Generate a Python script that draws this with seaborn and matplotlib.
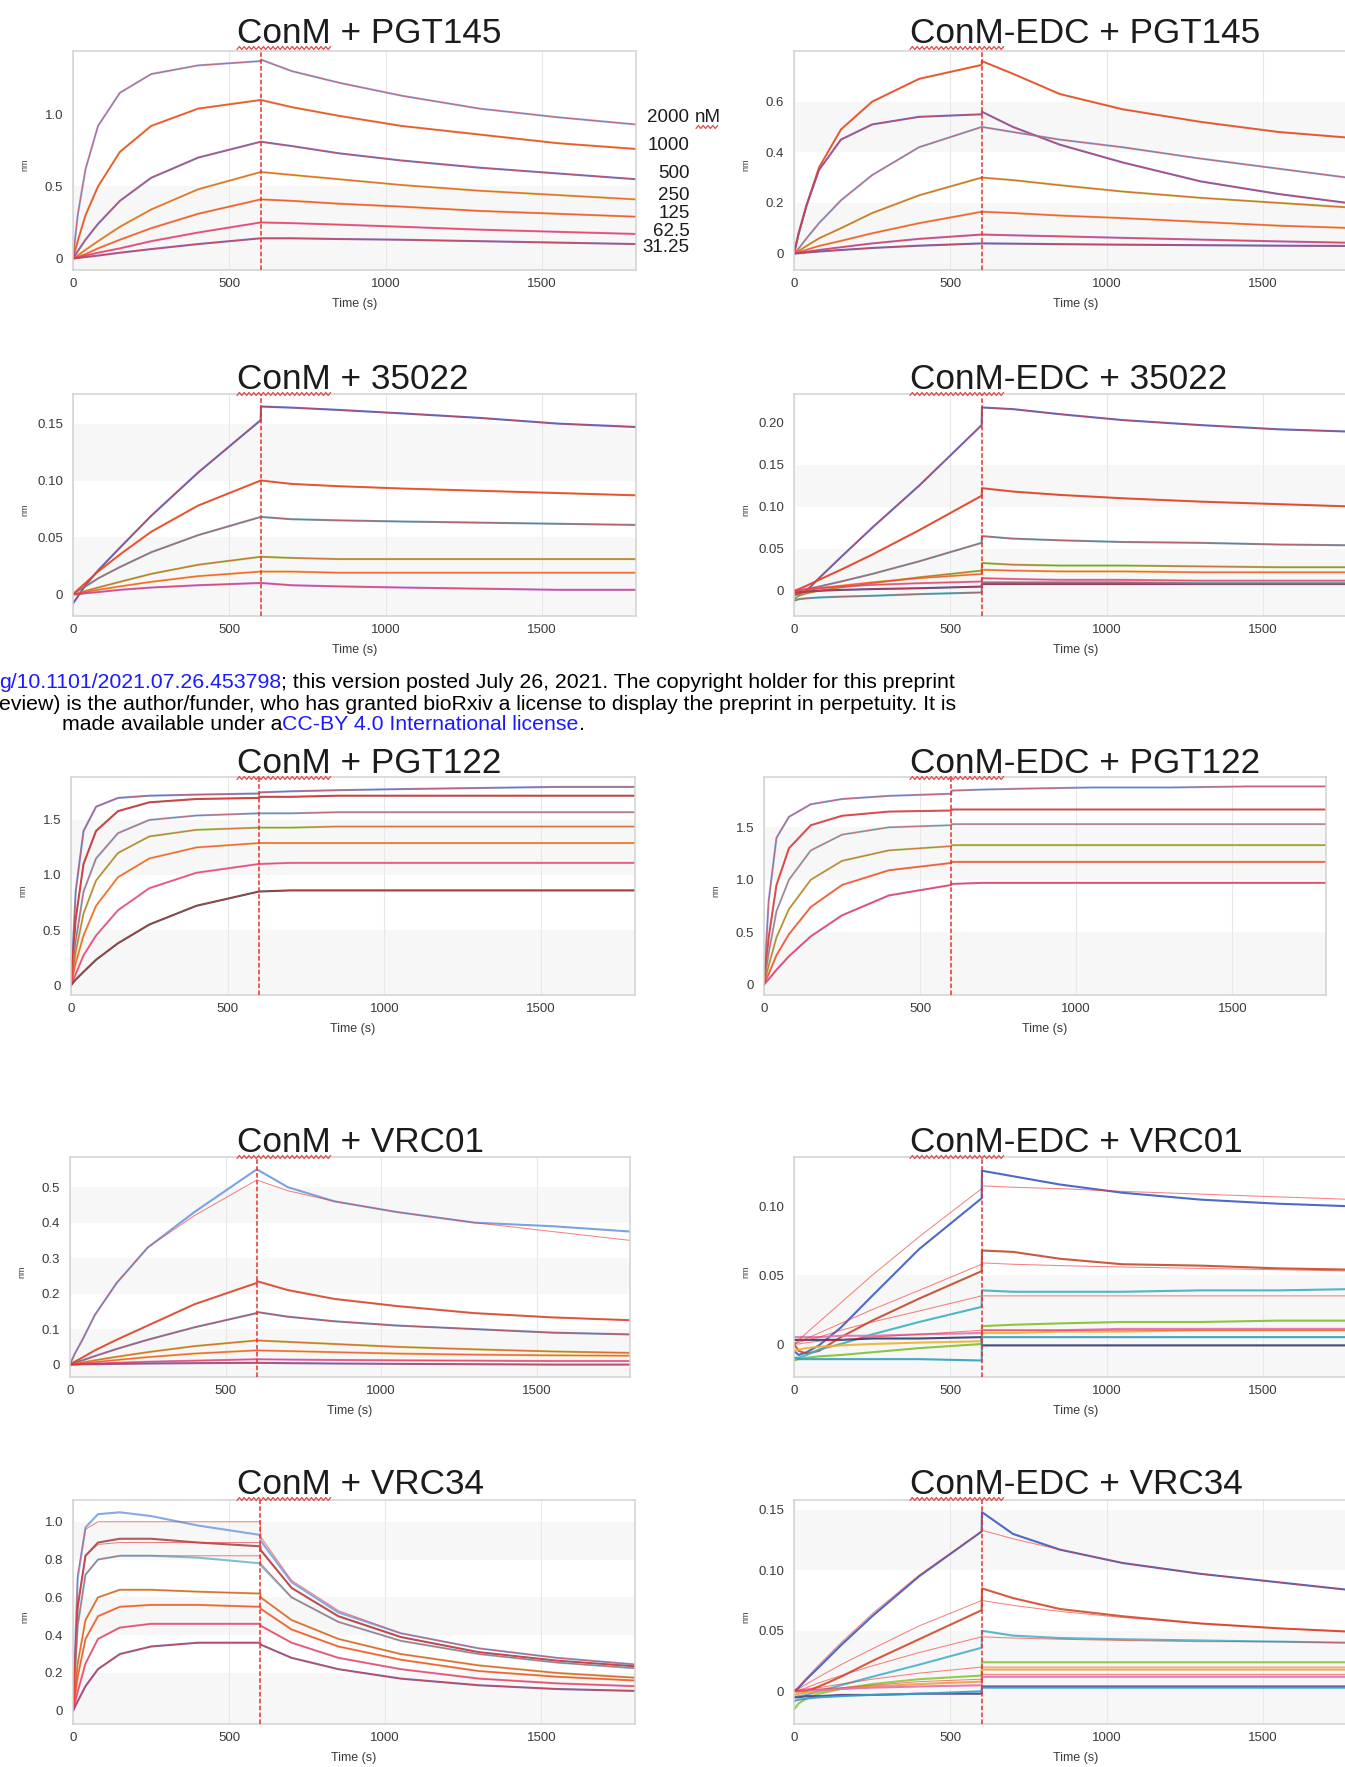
import numpy as np
import pandas as pd
import seaborn as sns
import matplotlib.pyplot as plt
from matplotlib.lines import Line2D

sns.set_theme(style="white")
plt.rcParams["font.family"] = ["Liberation Sans", "DejaVu Sans"]

W, H = 1345, 1767

# sampling times (s); 600 / 601 = switch from association to dissociation
time_s = [0, 15, 40, 80, 150, 250, 400, 600, 601, 700, 850, 1050, 1300, 1550, 1800]

# ---- ConM + PGT145 (2000 ... 31.25 nM)
conm_pgt145 = [
    [0, 0.30, 0.62, 0.92, 1.15, 1.28, 1.34, 1.37, 1.38, 1.30, 1.22, 1.13, 1.04, 0.98, 0.93],
    [0, 0.12, 0.30, 0.50, 0.74, 0.92, 1.04, 1.10, 1.10, 1.05, 0.99, 0.92, 0.86, 0.80, 0.76],
    [0, 0.05, 0.13, 0.24, 0.40, 0.56, 0.70, 0.81, 0.81, 0.78, 0.73, 0.68, 0.63, 0.59, 0.55],
    [0, 0.02, 0.06, 0.12, 0.22, 0.34, 0.48, 0.60, 0.60, 0.58, 0.55, 0.51, 0.47, 0.44, 0.41],
    [0, 0.01, 0.03, 0.07, 0.13, 0.21, 0.31, 0.41, 0.41, 0.40, 0.38, 0.36, 0.33, 0.31, 0.29],
    [0, 0.005, 0.02, 0.04, 0.07, 0.12, 0.18, 0.25, 0.25, 0.245, 0.235, 0.22, 0.20, 0.185, 0.17],
    [0, 0.003, 0.01, 0.02, 0.04, 0.065, 0.10, 0.14, 0.14, 0.14, 0.135, 0.13, 0.12, 0.11, 0.10],
]
pgt145_conc_labels = ["2000", "1000", "500", "250", "125", "62.5", "31.25"]

# ---- ConM-EDC + PGT145
edc_pgt145 = [
    [0, 0.08, 0.19, 0.34, 0.49, 0.60, 0.69, 0.745, 0.76, 0.71, 0.63, 0.57, 0.52, 0.48, 0.455],
    [0, 0.08, 0.19, 0.33, 0.45, 0.51, 0.54, 0.55, 0.56, 0.50, 0.43, 0.36, 0.285, 0.235, 0.195],
    [0, 0.02, 0.06, 0.12, 0.21, 0.31, 0.42, 0.50, 0.50, 0.48, 0.45, 0.42, 0.375, 0.335, 0.295],
    [0, 0.01, 0.03, 0.06, 0.10, 0.16, 0.23, 0.30, 0.30, 0.29, 0.27, 0.245, 0.22, 0.20, 0.18],
    [0, 0.005, 0.015, 0.03, 0.05, 0.08, 0.12, 0.165, 0.165, 0.16, 0.15, 0.14, 0.125, 0.11, 0.10],
    [0, 0.003, 0.007, 0.014, 0.025, 0.04, 0.058, 0.075, 0.075, 0.072, 0.068, 0.062, 0.055, 0.048, 0.042],
    [0, 0.001, 0.004, 0.008, 0.014, 0.022, 0.031, 0.04, 0.04, 0.039, 0.037, 0.035, 0.033, 0.031, 0.03],
]

# ---- ConM + 35022
conm_35022 = [
    [-0.008, -0.002, 0.008, 0.021, 0.041, 0.069, 0.107, 0.153, 0.165, 0.164, 0.162, 0.159, 0.155, 0.150, 0.147],
    [0, 0.004, 0.01, 0.02, 0.035, 0.055, 0.078, 0.10, 0.10, 0.097, 0.095, 0.093, 0.091, 0.089, 0.087],
    [0, 0.003, 0.007, 0.014, 0.024, 0.037, 0.052, 0.068, 0.068, 0.066, 0.065, 0.064, 0.063, 0.062, 0.061],
    [0, 0.001, 0.003, 0.006, 0.011, 0.018, 0.026, 0.033, 0.033, 0.032, 0.031, 0.031, 0.031, 0.031, 0.031],
    [0, 0.0005, 0.002, 0.004, 0.007, 0.011, 0.016, 0.020, 0.020, 0.020, 0.019, 0.019, 0.019, 0.019, 0.019],
    [0, 0.0, 0.001, 0.002, 0.004, 0.006, 0.008, 0.010, 0.010, 0.008, 0.007, 0.006, 0.005, 0.004, 0.004],
]

# ---- ConM-EDC + 35022
edc_35022 = [
    [-0.005, -0.004, 0.0, 0.015, 0.04, 0.075, 0.125, 0.197, 0.218, 0.216, 0.21, 0.203, 0.197, 0.192, 0.189],
    [0, 0.002, 0.006, 0.013, 0.025, 0.043, 0.072, 0.113, 0.122, 0.118, 0.114, 0.11, 0.106, 0.103, 0.10],
    [0, 0.0, 0.002, 0.005, 0.011, 0.02, 0.035, 0.057, 0.065, 0.062, 0.06, 0.058, 0.057, 0.055, 0.054],
    [-0.01, -0.006, -0.003, 0.0, 0.004, 0.009, 0.016, 0.024, 0.033, 0.031, 0.030, 0.030, 0.029, 0.028, 0.028],
    [-0.003, -0.002, 0.0, 0.003, 0.006, 0.01, 0.015, 0.02, 0.025, 0.024, 0.023, 0.023, 0.022, 0.022, 0.022],
    [0, 0.001, 0.002, 0.003, 0.005, 0.007, 0.009, 0.011, 0.015, 0.014, 0.013, 0.013, 0.012, 0.012, 0.012],
    [-0.002, -0.002, -0.001, 0.0, 0.001, 0.002, 0.003, 0.005, 0.008, 0.008, 0.008, 0.008, 0.008, 0.008, 0.008],
    [-0.012, -0.01, -0.009, -0.008, -0.007, -0.006, -0.004, -0.002, 0.010, 0.010, 0.010, 0.010, 0.009, 0.009, 0.009],
]

# ---- ConM + PGT122
conm_pgt122 = [
    [0, 0.85, 1.40, 1.62, 1.70, 1.72, 1.73, 1.74, 1.75, 1.76, 1.77, 1.78, 1.79, 1.80, 1.80],
    [0, 0.60, 1.10, 1.40, 1.58, 1.66, 1.69, 1.70, 1.71, 1.71, 1.72, 1.72, 1.72, 1.72, 1.72],
    [0, 0.40, 0.85, 1.15, 1.38, 1.50, 1.54, 1.56, 1.56, 1.56, 1.57, 1.57, 1.57, 1.57, 1.57],
    [0, 0.30, 0.65, 0.95, 1.20, 1.35, 1.41, 1.43, 1.43, 1.43, 1.44, 1.44, 1.44, 1.44, 1.44],
    [0, 0.20, 0.45, 0.72, 0.98, 1.15, 1.25, 1.29, 1.29, 1.29, 1.29, 1.29, 1.29, 1.29, 1.29],
    [0, 0.10, 0.27, 0.45, 0.68, 0.88, 1.02, 1.10, 1.10, 1.11, 1.11, 1.11, 1.11, 1.11, 1.11],
    [0, 0.05, 0.12, 0.23, 0.38, 0.55, 0.72, 0.85, 0.85, 0.86, 0.86, 0.86, 0.86, 0.86, 0.86],
]

# ---- ConM-EDC + PGT122
edc_pgt122 = [
    [0, 0.80, 1.40, 1.60, 1.72, 1.77, 1.80, 1.82, 1.85, 1.86, 1.87, 1.88, 1.88, 1.89, 1.89],
    [0, 0.45, 0.95, 1.30, 1.52, 1.61, 1.65, 1.66, 1.67, 1.67, 1.67, 1.67, 1.67, 1.67, 1.67],
    [0, 0.30, 0.70, 1.00, 1.28, 1.43, 1.50, 1.52, 1.53, 1.53, 1.53, 1.53, 1.53, 1.53, 1.53],
    [0, 0.18, 0.45, 0.72, 1.00, 1.18, 1.28, 1.32, 1.33, 1.33, 1.33, 1.33, 1.33, 1.33, 1.33],
    [0, 0.10, 0.28, 0.48, 0.74, 0.95, 1.09, 1.16, 1.17, 1.17, 1.17, 1.17, 1.17, 1.17, 1.17],
    [0, 0.05, 0.14, 0.27, 0.46, 0.66, 0.85, 0.95, 0.96, 0.97, 0.97, 0.97, 0.97, 0.97, 0.97],
]

# ---- ConM + VRC01
conm_vrc01 = [
    [0, 0.03, 0.07, 0.14, 0.23, 0.33, 0.43, 0.55, 0.55, 0.50, 0.46, 0.43, 0.40, 0.39, 0.375],
    [0, 0.008, 0.02, 0.04, 0.07, 0.11, 0.17, 0.23, 0.235, 0.21, 0.185, 0.165, 0.145, 0.133, 0.125],
    [0, 0.005, 0.012, 0.024, 0.044, 0.07, 0.105, 0.145, 0.148, 0.135, 0.122, 0.11, 0.10, 0.09, 0.085],
    [0, 0.002, 0.006, 0.012, 0.022, 0.035, 0.052, 0.068, 0.068, 0.064, 0.058, 0.05, 0.043, 0.037, 0.033],
    [0, 0.001, 0.003, 0.007, 0.013, 0.021, 0.031, 0.04, 0.04, 0.038, 0.035, 0.031, 0.028, 0.026, 0.025],
    [0, 0.001, 0.002, 0.003, 0.005, 0.008, 0.011, 0.015, 0.015, 0.014, 0.013, 0.012, 0.011, 0.01, 0.01],
    [0, 0.0, 0.001, 0.001, 0.002, 0.003, 0.004, 0.005, 0.005, 0.004, 0.003, 0.002, 0.001, 0.0, 0.0],
]
conm_vrc01_fit = [
    [0, 0.03, 0.07, 0.14, 0.23, 0.33, 0.42, 0.52, 0.52, 0.49, 0.46, 0.43, 0.40, 0.375, 0.35],
] + conm_vrc01[1:]

# ---- ConM-EDC + VRC01 (measured traces and global fits)
edc_vrc01 = [
    [-0.005, -0.008, -0.006, -0.001, 0.012, 0.035, 0.069, 0.106, 0.126, 0.122, 0.116, 0.110, 0.105, 0.102, 0.100],
    [0.0, -0.005, -0.007, -0.005, 0.005, 0.017, 0.033, 0.053, 0.068, 0.067, 0.062, 0.058, 0.057, 0.055, 0.054],
    [-0.01, -0.01, -0.008, -0.004, 0.0, 0.007, 0.016, 0.027, 0.039, 0.038, 0.038, 0.038, 0.039, 0.039, 0.040],
    [-0.012, -0.011, -0.01, -0.009, -0.008, -0.006, -0.003, 0.0, 0.013, 0.014, 0.015, 0.016, 0.016, 0.017, 0.017],
    [-0.005, -0.004, -0.003, -0.002, -0.001, 0.0, 0.001, 0.002, 0.008, 0.008, 0.009, 0.009, 0.01, 0.01, 0.01],
    [0.005, 0.005, 0.005, 0.005, 0.006, 0.006, 0.007, 0.008, 0.01, 0.01, 0.01, 0.011, 0.011, 0.011, 0.011],
    [0.003, 0.003, 0.003, 0.003, 0.003, 0.004, 0.004, 0.005, -0.001, -0.001, -0.001, -0.001, -0.001, -0.001, -0.001],
    [-0.01, -0.011, -0.011, -0.011, -0.011, -0.011, -0.011, -0.012, 0.005, 0.005, 0.005, 0.005, 0.005, 0.005, 0.005],
]
edc_vrc01_fit = [
    [0, 0.003, 0.008, 0.016, 0.03, 0.05, 0.078, 0.113, 0.115, 0.114, 0.113, 0.111, 0.109, 0.107, 0.105],
    [0, 0.002, 0.004, 0.008, 0.015, 0.025, 0.039, 0.058, 0.059, 0.058, 0.057, 0.056, 0.055, 0.054, 0.053],
    [0, 0.001, 0.003, 0.005, 0.01, 0.016, 0.024, 0.035, 0.035, 0.035, 0.035, 0.035, 0.035, 0.035, 0.035],
    [0, 0.0, 0.001, 0.002, 0.003, 0.005, 0.007, 0.01, 0.01, 0.01, 0.01, 0.01, 0.01, 0.01, 0.01],
]

# ---- ConM + VRC34
conm_vrc34 = [
    [0, 0.70, 0.97, 1.04, 1.05, 1.03, 0.98, 0.93, 0.90, 0.68, 0.52, 0.41, 0.33, 0.28, 0.245],
    [0, 0.55, 0.82, 0.89, 0.91, 0.91, 0.89, 0.87, 0.85, 0.65, 0.50, 0.39, 0.31, 0.265, 0.235],
    [0, 0.45, 0.72, 0.80, 0.82, 0.82, 0.81, 0.78, 0.77, 0.60, 0.47, 0.37, 0.30, 0.255, 0.225],
    [0, 0.25, 0.48, 0.60, 0.64, 0.64, 0.63, 0.62, 0.60, 0.48, 0.38, 0.30, 0.24, 0.20, 0.175],
    [0, 0.18, 0.38, 0.50, 0.55, 0.56, 0.56, 0.55, 0.54, 0.43, 0.34, 0.27, 0.21, 0.18, 0.16],
    [0, 0.10, 0.25, 0.38, 0.44, 0.46, 0.46, 0.46, 0.45, 0.36, 0.28, 0.22, 0.17, 0.145, 0.13],
    [0, 0.05, 0.13, 0.22, 0.30, 0.34, 0.36, 0.36, 0.35, 0.28, 0.22, 0.17, 0.135, 0.115, 0.105],
]
conm_vrc34_fit = [
    [0, 0.72, 0.96, 1.0, 1.0, 1.0, 1.0, 1.0, 0.92, 0.69, 0.53, 0.41, 0.33, 0.28, 0.245],
    [0, 0.55, 0.82, 0.88, 0.89, 0.89, 0.89, 0.89, 0.85, 0.65, 0.50, 0.39, 0.31, 0.265, 0.235],
    [0, 0.45, 0.72, 0.80, 0.82, 0.82, 0.82, 0.82, 0.78, 0.60, 0.47, 0.37, 0.30, 0.255, 0.225],
] + conm_vrc34[3:]

# ---- ConM-EDC + VRC34
edc_vrc34 = [
    [0.0, 0.003, 0.01, 0.02, 0.038, 0.062, 0.095, 0.132, 0.148, 0.13, 0.117, 0.106, 0.097, 0.09, 0.083],
    [0.0, 0.0, 0.0, 0.004, 0.012, 0.025, 0.043, 0.067, 0.085, 0.077, 0.068, 0.062, 0.056, 0.052, 0.049],
    [-0.005, -0.004, -0.003, 0.0, 0.005, 0.012, 0.022, 0.036, 0.05, 0.046, 0.044, 0.043, 0.042, 0.041, 0.04],
    [-0.015, -0.01, -0.006, -0.002, 0.002, 0.006, 0.01, 0.013, 0.024, 0.024, 0.024, 0.024, 0.024, 0.024, 0.024],
    [-0.003, -0.002, -0.001, 0.0, 0.002, 0.004, 0.006, 0.008, 0.018, 0.018, 0.018, 0.018, 0.018, 0.018, 0.018],
    [0.0, 0.0, 0.001, 0.001, 0.002, 0.003, 0.004, 0.005, 0.012, 0.012, 0.012, 0.012, 0.012, 0.012, 0.012],
    [-0.005, -0.005, -0.004, -0.004, -0.003, -0.003, -0.002, -0.002, 0.004, 0.004, 0.004, 0.004, 0.004, 0.004, 0.004],
    [-0.008, -0.007, -0.006, -0.005, -0.004, -0.003, -0.002, 0.0, 0.003, 0.003, 0.003, 0.003, 0.003, 0.003, 0.003],
]
edc_vrc34_fit = [
    [0, 0.004, 0.011, 0.022, 0.04, 0.064, 0.096, 0.132, 0.133, 0.126, 0.117, 0.106, 0.097, 0.09, 0.083],
    [0, 0.002, 0.006, 0.012, 0.022, 0.035, 0.054, 0.075, 0.075, 0.071, 0.066, 0.061, 0.056, 0.052, 0.049],
    [0, 0.001, 0.003, 0.007, 0.013, 0.021, 0.032, 0.045, 0.045, 0.044, 0.043, 0.042, 0.041, 0.041, 0.04],
    [0, 0.001, 0.002, 0.003, 0.006, 0.01, 0.015, 0.02, 0.02, 0.02, 0.02, 0.02, 0.02, 0.02, 0.02],
    [0, 0.0, 0.001, 0.002, 0.003, 0.005, 0.008, 0.01, 0.014, 0.014, 0.014, 0.014, 0.014, 0.014, 0.014],
]

# trace colours (Octet-like)
colors_a = ["#86a8e2", "#e07a2a", "#6a6fc0", "#d8a830", "#f08a3a", "#e060a0", "#8a5aa8"]
colors_b = ["#e06a2a", "#6a5fc0", "#7fa8d8", "#b8b030", "#f0903a", "#b060b0", "#6a5aa8"]
colors_c = ["#4a5fc8", "#e0602a", "#5a9ab0", "#9cbc3a", "#f0a035", "#c060c8"]
colors_d = ["#4a5fc8", "#d9552a", "#5a9ab0", "#8cc43c", "#f0a035", "#e070b0", "#4a3a7a", "#30b0c0"]
colors_e = ["#6a90d8", "#b04040", "#7ab0d8", "#9ccc50", "#f0a040", "#e070b0", "#404040"]
colors_f = ["#7aa0e0", "#d05050", "#80c0d0", "#a0cc50", "#f08050", "#d060a0"]
colors_g = ["#6a9ae0", "#d0603a", "#6a80b0", "#c0b030", "#f0a040", "#e070b0", "#7a5aa8"]
colors_h = ["#3a5ac0", "#c04a2a", "#3ab0c0", "#80c030", "#f0b030", "#e070b0", "#2a3a6a", "#30a0c0"]
colors_i = ["#7aa0e0", "#a04a50", "#70b8d0", "#d0a040", "#f08a40", "#e070a0", "#7a5a9a"]
colors_j = ["#3a5ac0", "#d04a2a", "#4ab0c8", "#8cc43c", "#f0a035", "#e070b0", "#5a3a7a", "#30a0d0"]
fit_red = "#f03030"

x_ticks = [0, 500, 1000, 1500]
x_ticklabels = ["0", "500", "1000", "1500"]

# title, traces, fits, colours, ylim, yticks, yticklabels, axes box px (l, t, r, b), title pos px (x, baseline)
panels = [
    ("ConM + PGT145", conm_pgt145, None, colors_a, (-0.08, 1.44), [0, 0.5, 1.0], ["0", "0.5", "1.0"],
     (73, 51, 636, 270), (237, 43)),
    ("ConM-EDC + PGT145", edc_pgt145, None, colors_b, (-0.065, 0.80), [0, 0.2, 0.4, 0.6], ["0", "0.2", "0.4", "0.6"],
     (794, 51, 1357, 270), (910, 43)),
    ("ConM + 35022", conm_35022, None, colors_c, (-0.019, 0.176), [0, 0.05, 0.10, 0.15], ["0", "0.05", "0.10", "0.15"],
     (73, 394, 636, 616), (237, 389)),
    ("ConM-EDC + 35022", edc_35022, None, colors_d, (-0.03, 0.234), [0, 0.05, 0.10, 0.15, 0.20],
     ["0", "0.05", "0.10", "0.15", "0.20"], (794, 394, 1357, 616), (910, 389)),
    ("ConM + PGT122", conm_pgt122, None, colors_e, (-0.09, 1.89), [0, 0.5, 1.0, 1.5], ["0", "0.5", "1.0", "1.5"],
     (71, 777, 635, 995), (237, 773)),
    ("ConM-EDC + PGT122", edc_pgt122, None, colors_f, (-0.10, 1.98), [0, 0.5, 1.0, 1.5], ["0", "0.5", "1.0", "1.5"],
     (764, 777, 1326, 995), (910, 773)),
    ("ConM + VRC01", conm_vrc01, conm_vrc01_fit, colors_g, (-0.035, 0.585), [0, 0.1, 0.2, 0.3, 0.4, 0.5],
     ["0", "0.1", "0.2", "0.3", "0.4", "0.5"], (70, 1157, 630, 1377), (237, 1152)),
    ("ConM-EDC + VRC01", edc_vrc01, edc_vrc01_fit, colors_h, (-0.024, 0.136), [0, 0.05, 0.10],
     ["0", "0.05", "0.10"], (794, 1157, 1357, 1377), (910, 1152)),
    ("ConM + VRC34", conm_vrc34, conm_vrc34_fit, colors_i, (-0.07, 1.115), [0, 0.2, 0.4, 0.6, 0.8, 1.0],
     ["0", "0.2", "0.4", "0.6", "0.8", "1.0"], (73, 1500, 635, 1724), (237, 1494)),
    ("ConM-EDC + VRC34", edc_vrc34, edc_vrc34_fit, colors_j, (-0.027, 0.158), [0, 0.05, 0.10, 0.15],
     ["0", "0.05", "0.10", "0.15"], (794, 1500, 1357, 1724), (910, 1494)),
]


def to_long(curves):
    rows = []
    for i, vals in enumerate(curves):
        for t, v in zip(time_s, vals):
            rows.append({"curve": i, "time": t, "nm": v})
    return pd.DataFrame(rows)


def squiggle(x0, x1, y, amp=1.5, step=2.4):
    xs = np.arange(x0, x1, step)
    ys = y + amp * (-1.0) ** np.arange(len(xs))
    fig.add_artist(Line2D(xs / W, 1 - ys / H, color="#e04848", lw=0.9,
                          transform=fig.transFigure))


fig = plt.figure(figsize=(W / 100, H / 100), dpi=100)
fig.patch.set_facecolor("white")
renderer = fig.canvas.get_renderer()


def text_width(s, fs):
    t = fig.text(0, 0, s, fontsize=fs)
    w = t.get_window_extent(renderer=renderer).width
    t.remove()
    return w


# title size: "ConM + PGT145" is about 265 px wide
title_fs = 26 * 265 / text_width("ConM + PGT145", 26)
conm_w = text_width("ConM", title_fs)

for title, curves, fits, cols, ylim, yt, ytl, box, tpos in panels:
    l, t, r, b = box
    ax = fig.add_axes([l / W, 1 - b / H, (r - l) / W, (b - t) / H])
    ax.set_facecolor("white")
    ax.set_xlim(0, 1800)
    ax.set_ylim(*ylim)

    # very faint alternating bands
    ax.axhspan(ylim[0], yt[0], color="#f7f7f7", lw=0, zorder=0)
    for k in range(0, len(yt) - 1, 2):
        ax.axhspan(yt[k], yt[k + 1], color="#f7f7f7", lw=0, zorder=0)
    ax.set_xticks(x_ticks)
    ax.set_xticks(range(0, 1801, 100), minor=True)
    ax.grid(axis="x", which="major", color="#e8e8e8", lw=0.8)
    ax.set_axisbelow(True)

    df = to_long(curves)
    sns.lineplot(data=df, x="time", y="nm", hue="curve", palette=cols[:len(curves)],
                 estimator=None, sort=False, lw=1.5, alpha=0.9, legend=False, ax=ax)
    fit_df = to_long(fits if fits is not None else curves)
    sns.lineplot(data=fit_df, x="time", y="nm", units="curve", estimator=None, sort=False,
                 color=fit_red, lw=0.75, alpha=0.6, legend=False, ax=ax)

    ax.axvline(600, color="#e8302a", lw=1.1, ls=(0, (3, 1.5)), zorder=5)

    ax.set_xticklabels(x_ticklabels)
    ax.set_yticks(yt)
    ax.set_yticklabels(ytl)
    ax.tick_params(axis="x", which="both", direction="in", length=4, color="#c4c4c4",
                   labelsize=9.5, labelcolor="#3a3a3a", pad=6)
    ax.tick_params(axis="y", length=0, labelsize=9.5, labelcolor="#3a3a3a", pad=7)
    ax.set_xlabel("")
    ax.set_ylabel("")
    for sp in ax.spines.values():
        sp.set_color("#d2d2d2")
        sp.set_linewidth(1.1)

    ax.text(0.5, -34 / (b - t), "Time (s)", transform=ax.transAxes, ha="center", va="center",
            fontsize=9, color="#3a3a3a")
    ax.text(-48 / (r - l), 0.48, "nm", transform=ax.transAxes, ha="center", va="center",
            rotation=90, fontsize=6.5, color="#3a3a3a")

    fig.text(tpos[0] / W, 1 - tpos[1] / H, title, fontsize=title_fs, ha="left", va="baseline",
             color="#1c1c1c")
    squiggle(tpos[0], tpos[0] + conm_w, tpos[1] + 5)

# concentration labels next to the ConM + PGT145 panel (tightly stacked as in the source)
label_y = [117, 146, 173.5, 195, 214, 231, 248]
for txt, yy in zip(pgt145_conc_labels, label_y):
    fig.text(689.5 / W, 1 - yy / H, txt, fontsize=13.5, ha="right", va="center", color="#1c1c1c")
fig.text(695 / W, 1 - 117 / H, "nM", fontsize=13.5, ha="left", va="center", color="#1c1c1c")
squiggle(696, 720, 127)

# bioRxiv footer, cut at the left edge
line2 = ("eview) is the author/funder, who has granted bioRxiv a license to display the "
         "preprint in perpetuity. It is")
foot_fs = 14 * 963 / text_width(line2, 14)
blue = "#1a1aff"


def text_run(x_px, y_px, parts):
    x = x_px
    for s, c in parts:
        tx = fig.text(x / W, 1 - y_px / H, s, color=c, fontsize=foot_fs, ha="left", va="center")
        x = tx.get_window_extent(renderer=renderer).x1


text_run(-1, 683, [("g/10.1101/2021.07.26.453798", blue),
                   ("; this version posted July 26, 2021. The copyright holder for this preprint", "black")])
text_run(-1, 704, [(line2, "black")])
text_run(62, 725, [("made available under a", "black"), ("CC-BY 4.0 International license", blue),
                   (".", "black")])

fig.savefig("out.png", dpi=100)
